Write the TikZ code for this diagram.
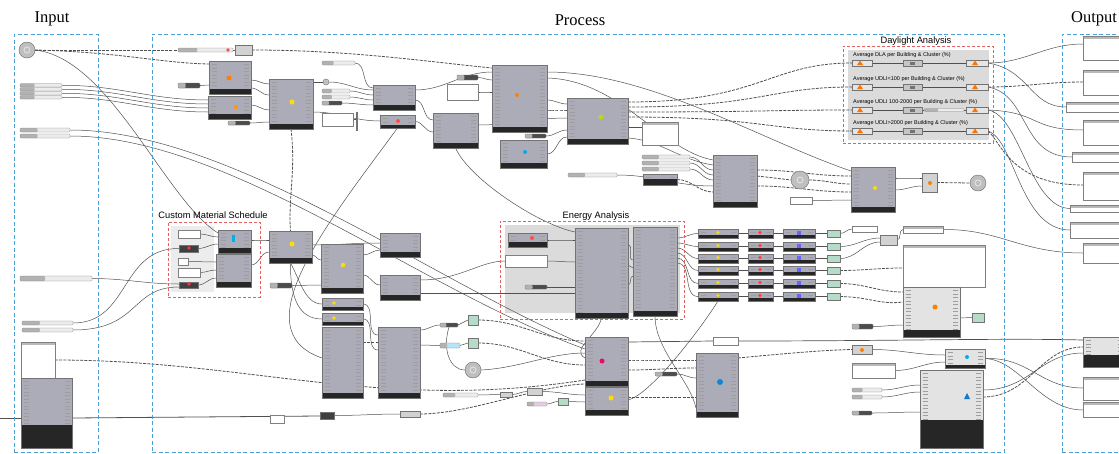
\documentclass[tikz,border=0pt]{standalone}
\usepackage{fontspec}
\setmainfont{Liberation Serif}
\newfontfamily\labfont{Liberation Sans}
\usetikzlibrary{calc}
\pgfdeclarelayer{back}
\pgfdeclarelayer{bg}
\pgfsetlayers{back,bg,main}
\definecolor{frameb}{RGB}{74,160,212}
\definecolor{framer}{RGB}{226,96,96}
\definecolor{compc}{RGB}{172,172,184}
\definecolor{wirec}{RGB}{80,80,80}
\definecolor{gicc}{RGB}{180,220,200}
\tikzset{
  foot/.initial=5pt,
  comp/.style={draw=black!55, fill=compc, line width=0.3pt, inner sep=0pt, outer sep=0pt,
    path picture={
      \foreach \k in {1,...,26}{
        \draw[black!38, line width=0.6pt] ([xshift=2.5pt,yshift={-\k*3.5pt}]path picture bounding box.north west) -- ++(5pt,0);
        \draw[black!38, line width=0.6pt] ([xshift=-2.5pt,yshift={-\k*3.5pt}]path picture bounding box.north east) -- ++(-5pt,0);
      }
      \fill[black!85] (path picture bounding box.south west) rectangle ([yshift=\pgfkeysvalueof{/tikz/foot}]path picture bounding box.south east);
    }},
  compl/.style={comp, fill=gray!22},
  mini/.style={draw=black!55, fill=gray!35, line width=0.3pt, inner sep=0pt, outer sep=0pt},
  minidk/.style={mini, fill=black!75},
  gic/.style={mini, fill=gicc},
  slid/.style={draw=black!50, fill=gray!15, line width=0.3pt, rounded corners=1pt, inner sep=0pt, outer sep=0pt,
    path picture={\fill[gray!60] (path picture bounding box.south west) rectangle ($(path picture bounding box.north west)!0.35!(path picture bounding box.north east)$);}},
  sliddk/.style={slid, fill=black!70},
  panel/.style={draw=black!50, fill=white, line width=0.3pt, inner sep=0pt, outer sep=0pt},
  opan/.style={panel, path picture={\fill[gray!55] (path picture bounding box.north west) rectangle ([yshift=-3pt]path picture bounding box.north east);}},
  gcirc/.style={circle, draw=black!60, fill=gray!50, line width=0.4pt, inner sep=0pt, outer sep=0pt,
    path picture={\draw[white!75!gray, line width=1pt] (path picture bounding box.center) circle (3pt);}},
  bframe/.style={draw=frameb, line width=1pt, dash pattern=on 4pt off 2.5pt, inner sep=0pt, outer sep=0pt},
  rframe/.style={draw=framer, line width=0.9pt, dash pattern=on 3pt off 2pt, inner sep=0pt, outer sep=0pt},
  area/.style={fill=gray!28, draw=none, inner sep=0pt, outer sep=0pt},
  wire/.style={draw=wirec, line width=0.5pt},
  dwire/.style={draw=wirec, line width=0.8pt, dash pattern=on 3pt off 1.2pt},
  ttl/.style={font=\fontsize{16.5}{18}\selectfont, inner sep=0pt},
  sub/.style={font=\labfont\fontsize{9.3}{10}\selectfont, inner sep=0pt},
  dltext/.style={font=\labfont\fontsize{5.5}{6}\selectfont, inner sep=0pt, anchor=west},
}
\newcommand\gc[6][comp]{\node[#1, anchor=north west, minimum width={(#5)-(#3)}, minimum height={(#6)-(#4)}] (#2) at (#3,#4) {};}
\begin{document}
\begin{tikzpicture}[x=1pt,y=-1pt]
\useasboundingbox (0,0) rectangle (1119,453);

% titles
\node[ttl] (tin) at (52,19) {Input};
\node[ttl] (tpr) at (580,20) {Process};
\node[ttl] (tout) at (1094,19) {Output};
\node[sub] (tdl) at (916,41) {Daylight Analysis};
\node[sub] (tcm) at (213,215) {Custom Material Schedule};
\node[sub] (ten) at (596,216) {Energy Analysis};

% grey group areas
\begin{pgfonlayer}{back}
\gc[area]{adl}{848}{50}{989}{140}
\gc[area]{aen}{505}{225}{680}{313}
\gc[area, fill=gray!15]{acm}{171}{226}{214}{292}
\end{pgfonlayer}

% ---------------- input
\node[gcirc, minimum size=16pt] (ci1) at (27,50) {};
\gc[slid]{s1}{20}{83.5}{62}{87}
\gc[slid]{s2}{20}{87.5}{62}{91}
\gc[slid]{s3}{20}{91.5}{62}{95}
\gc[slid]{s4}{20}{95.5}{62}{99}
\gc[slid]{s5}{20}{128}{70}{132}
\gc[slid]{s6}{20}{134}{70}{138}
\gc[slid]{s7}{20}{276}{92}{281}
\gc[slid]{s8}{22}{321}{73}{325}
\gc[slid]{s9}{22}{328}{73}{332}
\gc[opan]{pn1}{21}{342}{55}{378}
\gc[comp,foot=23pt]{cb}{21}{378}{72}{448}

% ---------------- process, top
\gc[slid]{slA}{178}{48}{233}{52}
\gc[mini]{cS1}{235}{45}{252}{55}
\gc{cA}{209}{61}{251}{94}
\gc{cB}{208}{96}{251}{119}
\gc[sliddk]{slB}{178}{83}{200}{88}
\gc[sliddk]{slC}{228}{121}{250}{125}
\gc{cC}{269}{79}{313}{129}
\gc[slid]{slD}{322}{61}{355}{65}
\gc[slid]{slE}{322}{89}{350}{93}
\gc[slid]{slF}{322}{95}{350}{99}
\gc[sliddk]{slG}{322}{101}{342}{105}
\node[gcirc, minimum size=6pt] (cc0) at (326,82) {};
\gc[panel]{pnA}{322}{113}{353}{126}
\gc[mini, fill=black!60]{bar}{356}{112}{357.5}{130}
\gc{cD}{373}{85}{415}{110}
\gc[comp,foot=3pt]{cD2}{380}{115}{415}{128}
\gc[sliddk]{slH}{457}{75}{478}{80}
\gc[panel]{pnB}{447}{84}{478}{100}
\gc{cE}{433}{113}{478}{148}
\gc{cF}{492}{65}{547}{132}
\gc[sliddk]{slI}{525}{134}{546}{138}
\gc{cG2}{500}{140}{547}{168}
\gc{cF2}{567}{98}{628}{144}
\gc[opan]{pnC}{642}{122}{678}{145}
\gc[slid]{slJ}{642}{155}{690}{159}
\gc[slid]{slK}{642}{161}{690}{165}
\gc[slid]{slL}{642}{167}{690}{171}
\gc[comp,foot=6pt]{cBk}{643}{174}{677}{185}
\gc[slid]{slM}{568}{173}{617}{177}
\gc{cG}{713}{155}{757}{207}
\node[gcirc, minimum size=18pt] (ci2) at (800,180) {};
\gc[panel]{pnD}{790}{197}{812}{204}
\gc{cH}{851}{167}{895}{212}
\gc[mini]{cS2}{922}{173}{937}{192}
\node[gcirc, minimum size=16pt] (ci3) at (978,183) {};

% daylight rows
\node[dltext] (dt1) at (853,55) {Average DLA per Building \& Cluster (\%)};
\node[dltext] (dt2) at (853,79) {Average UDLI<100 per Building \& Cluster (\%)};
\node[dltext] (dt3) at (853,102) {Average UDLI 100-2000 per Building \& Cluster (\%)};
\node[dltext] (dt4) at (853,123) {Average UDLI>2000 per Building \& Cluster (\%)};
\foreach \i/\yy in {1/63,2/87,3/110,4/131}{
  \gc[mini, fill=gray!20]{dla\i}{852}{\yy-3}{872}{\yy+3}
  \gc[mini, fill=gray!45]{dlb\i}{903}{\yy-3}{922}{\yy+3}
  \gc[mini, fill=gray!20]{dlc\i}{966}{\yy-3}{988}{\yy+3}
}
\gc[slid]{dlsl}{924}{108.5}{964}{111.5}

% custom material schedule
\gc[panel]{pnE}{178}{230}{200}{238}
\gc[minidk]{bkA}{179}{245}{198}{252}
\gc[panel]{pnF}{178}{258}{188}{265}
\gc[panel]{pnG}{178}{268}{200}{277}
\gc[minidk]{bkB}{179}{282}{198}{288}
\gc{cI}{218}{230}{251}{253}
\gc{cJ}{216}{254}{251}{287}
\gc{cK}{269}{231}{312}{263}
\gc[sliddk]{bkC}{270}{283}{292}{288}
\gc{cL}{321}{244}{363}{293}
\gc{cM}{380}{233}{420}{257}
\gc{cN}{380}{275}{420}{300}
\gc[comp,foot=3pt]{cO1}{322}{298}{363}{310}
\gc[comp,foot=3pt]{cO2}{322}{313}{363}{325}
\gc{cO}{322}{327}{363}{398}
\gc{cP}{378}{327}{420}{398}

% energy analysis
\gc[comp,foot=5pt]{cT1}{508}{233}{547}{247}
\gc[panel]{pnH}{505}{255}{547}{267}
\gc[sliddk]{slN}{525}{285}{547}{289}
\gc{cT}{575}{228}{628}{318}
\gc{cU}{633}{227}{677}{316}
\foreach \i/\yy in {1/229,2/242,3/254,4/266,5/279,6/292}{
  \gc[comp,foot=3pt]{ra\i}{698}{\yy}{738}{\yy+9}
  \gc[comp,foot=3pt]{rb\i}{748}{\yy}{773}{\yy+9}
  \gc[comp,foot=3pt]{rc\i}{783}{\yy}{815}{\yy+9}
  \gc[gic]{rd\i}{827}{\yy+1}{840}{\yy+8}
}
\gc[panel]{pnI}{852}{226}{877}{232}
\gc[mini]{cS3}{880}{235}{897}{245}
\gc[opan]{cW1}{903}{226}{943}{233}
\gc[opan]{pnJ}{903}{245}{985}{287}
\gc[compl,foot=7pt]{cV}{903}{287}{960}{337}
\gc[gic]{gic1}{972}{313}{984}{322}
\gc[sliddk]{slO}{852}{324}{873}{329}
\gc[mini]{cS4}{852}{345}{872}{354}
\gc[opan]{pnK}{852}{363}{895}{378}
\gc[slid]{slP}{852}{388}{882}{392}
\gc[slid]{slQ}{852}{395}{882}{399}
\gc[sliddk]{slR}{852}{411}{872}{415}
\gc[compl,foot=3pt]{cW}{945}{349}{985}{368}
\gc[compl,foot=28pt]{cX}{920}{370}{983}{448}

% lower middle
\gc[minidk]{cS5}{320}{412}{334}{419}
\gc[panel]{pnM}{270}{415}{284}{423}
\gc[mini]{cS9}{400}{411}{420}{417}
\gc[slid]{slT}{443}{393}{478}{397}
\gc[mini]{cS7}{500}{392}{512}{397}
\gc[mini]{cS8}{527}{388}{542}{395}
\gc[gic]{gic2}{558}{398}{568}{405}
\gc[slid, fill=violet!20]{slU}{527}{402}{547}{406}
\gc[sliddk]{slV}{440}{323}{458}{327}
\gc[gic]{gic3}{468}{315}{478}{325}
\gc[slid, fill=cyan!30]{pnN}{440}{343}{460}{348}
\gc[gic]{gic4}{468}{338}{478}{348}
\node[gcirc, minimum size=16pt] (ci4) at (473,370) {};
\gc{cQ}{585}{337}{628}{386}
\gc{cR}{585}{387}{628}{415}
\gc{cS}{696}{353}{738}{417}
\gc[panel]{pnO}{713}{337}{738}{345}
\gc[sliddk]{slW}{655}{372}{677}{376}

% output
\gc[opan]{o1}{1083}{36}{1125}{60}
\gc[opan]{o2}{1083}{70}{1125}{95}
\gc[opan]{o3}{1066}{102}{1125}{112}
\gc[opan]{o4}{1083}{120}{1125}{145}
\gc[opan]{o5}{1072}{152}{1125}{162}
\gc[opan]{o6}{1083}{172}{1125}{200}
\gc[opan]{o7}{1070}{205}{1125}{212}
\gc[opan]{o8}{1070}{222}{1125}{238}
\gc[opan]{o9}{1083}{243}{1125}{263}
\gc[compl,foot=12pt]{o10}{1083}{337}{1125}{367}
\gc[opan]{o11}{1083}{377}{1125}{400}
\gc[opan]{o12}{1083}{402}{1125}{417}

% ---------------- wires
\begin{pgfonlayer}{bg}
\draw[dwire] (ci1.east) -- (cS1.west);
\draw[dwire] (ci1.east) .. controls (120,52) and (160,63) .. (cA.west|-0,64);
\draw[wire] (ci1.east) .. controls (110,58) and (165,200) .. (cI.west|-0,233);
\foreach \nn/\yy in {s1/100,s2/104,s3/108,s4/112} \draw[wire] (\nn.east) to[out=0,in=180] (cB.west|-0,\yy);
\draw[wire] (s5.east) .. controls (230,130) and (430,280) .. (cQ.west|-0,345);
\draw[wire] (s6.east) .. controls (230,136) and (420,290) .. (cQ.west|-0,349);
\draw[wire] (slA.east) -- (cS1.west);
\draw[dwire] (cS1.east) .. controls (350,50) and (430,62) .. (cF.west|-0,68);
\draw[wire] (slB.east) -- (cA.west|-0,85);
\draw[wire] (cA.east|-0,80) to[out=0,in=180] (cC.west|-0,84);
\draw[wire] (cA.east|-0,88) to[out=0,in=180] (cC.west|-0,95);
\draw[wire] (cB.east|-0,105) to[out=0,in=180] (cC.west|-0,110);
\draw[wire] (slC.east) to[out=0,in=180] (cC.west|-0,122);
\draw[wire] (cC.east|-0,82) -- (cc0.west);
\draw[wire] (cc0.east) to[out=0,in=180] (cD.west|-0,90);
\draw[wire] (slD.east) to[out=0,in=180] (cD.west|-0,88);
\draw[wire] (slE.east) to[out=0,in=180] (cD.west|-0,95);
\draw[wire] (slF.east) to[out=0,in=180] (cD.west|-0,100);
\draw[wire] (slG.east) to[out=0,in=180] (cD.west|-0,105);
\draw[wire] (cC.east|-0,112) to[out=0,in=180] (cD2.west|-0,121);
\draw[wire] (pnA.east) -- (bar.west|-pnA.east);
\draw[dwire] (cC.south) .. controls (296,170) and (288,200) .. (cK.north);
\draw[wire] (cD.east|-0,90) to[out=0,in=180] (cF.west|-0,72);
\draw[wire] (cD.east|-0,100) to[out=0,in=180] (cE.west|-0,120);
\draw[wire] (cD2.east) to[out=0,in=180] (cE.west|-0,132);
\draw[wire] (slH.east) to[out=0,in=180] (cF.west|-0,80);
\draw[wire] (pnB.east) to[out=0,in=180] (cF.west|-0,92);
\draw[wire] (cE.east|-0,125) to[out=0,in=180] (cF2.west|-0,118);
\draw[wire] (cF.east|-0,100) to[out=0,in=180] (cF2.west|-0,104);
\draw[dwire] (cF.east|-0,110) to[out=0,in=180] (cF2.west|-0,110);
\draw[wire] (slI.east) to[out=0,in=180] (cF2.west|-0,130);
\draw[wire] (cG2.east) to[out=0,in=180] (cF2.west|-0,137);
\draw[wire] (cF.east|-0,72) .. controls (650,72) and (760,140) .. (cH.west|-0,171);
\draw[wire] (cF.east|-0,78) .. controls (620,80) and (660,150) .. (cG.west|-0,160);
\draw[wire] (cF2.east|-0,138) .. controls (660,140) and (680,160) .. (cG.west|-0,165);
\draw[wire] (cF2.east|-0,127) -- (pnC.west|-0,127);
\draw[dwire] (cF2.east|-0,102) .. controls (760,102) and (770,63) .. (dla1.west);
\draw[dwire] (cF2.east|-0,107) .. controls (760,107) and (770,87) .. (dla2.west);
\draw[dwire] (cF2.east|-0,112) .. controls (760,112) and (770,110) .. (dla3.west);
\draw[dwire] (cF2.east|-0,117) .. controls (760,117) and (770,131) .. (dla4.west);
\draw[wire] (slJ.east) to[out=0,in=180] (cG.west|-0,170);
\draw[wire] (slK.east) to[out=0,in=180] (cG.west|-0,175);
\draw[wire] (slL.east) to[out=0,in=180] (cG.west|-0,180);
\draw[wire] (slM.east) to[out=0,in=180] (cG.west|-0,186);
\draw[dwire] (cBk.east) to[out=0,in=180] (cG.west|-0,192);
\draw[dwire] (cG.east|-0,176) -- (ci2.west);
\draw[dwire] (cG.east|-0,170) to[out=0,in=180] (cH.west|-0,176);
\draw[dwire] (ci2.east) to[out=0,in=180] (cH.west|-0,184);
\draw[dwire] (cG.east|-0,186) to[out=0,in=180] (cH.west|-0,192);
\draw[wire] (pnD.east) to[out=0,in=180] (cH.west|-0,200);
\draw[wire] (cH.east|-0,178) to[out=0,in=180] (cS2.west|-0,178);
\draw[wire] (cH.east|-0,190) to[out=0,in=180] (cS2.west|-0,186);
\draw[dwire] (cS2.east) -- (ci3.west);
\foreach \i in {1,2,3,4}{
  \draw[wire] (dla\i.east) -- (dlb\i.west);
  \draw[wire] (dlb\i.east) -- (dlc\i.west);
}
\draw[wire] (dlc1.east) to[out=0,in=180] (o1.west|-0,44);
\draw[dwire] (dlc2.east) to[out=0,in=180] (o2.west|-0,82);
\draw[wire] (dlc1.east) .. controls (1030,70) and (1030,107) .. (o3.west);
\draw[wire] (dlc2.east) .. controls (1030,95) and (1020,157) .. (o5.west);
\draw[wire] (dlc3.east) .. controls (1040,112) and (1030,130) .. (o4.west|-0,130);
\draw[wire] (dlc3.east) .. controls (1020,115) and (1030,208) .. (o7.west);
\draw[dwire] (dlc4.east) .. controls (1000,140) and (1010,185) .. (o6.west|-0,185);
\draw[wire] (dlc4.east) .. controls (1015,140) and (1020,230) .. (o8.west);
% custom material
\draw[wire] (pnE.east) to[out=0,in=180] (cI.west|-0,237);
\draw[wire] (bkA.east) to[out=0,in=180] (cI.west|-0,244);
\draw[wire] (pnF.east) to[out=0,in=180] (cJ.west|-0,262);
\draw[wire] (pnG.east) to[out=0,in=180] (cJ.west|-0,270);
\draw[wire] (bkB.east) to[out=0,in=180] (cJ.west|-0,278);
\draw[wire] (cI.east|-0,240) to[out=0,in=180] (cK.west|-0,240);
\draw[wire] (cJ.east|-0,265) to[out=0,in=180] (cK.west|-0,252);
\draw[wire] (cK.east|-0,245) to[out=0,in=180] (cM.west|-0,243);
\draw[wire] (cK.east|-0,255) to[out=0,in=180] (cL.west|-0,260);
\draw[wire] (bkC.east) to[out=0,in=180] (cL.west|-0,285);
\draw[wire] (cL.east|-0,255) to[out=0,in=180] (cM.west|-0,250);
\draw[wire] (cL.east|-0,275) to[out=0,in=180] (cN.west|-0,285);
\draw[wire] (cK.south) .. controls (300,280) and (305,304) .. (cO1.west);
\draw[wire] (cK.south) .. controls (290,300) and (300,319) .. (cO2.west);
\draw[wire] (cO1.east) to[out=0,in=180] (cP.west|-0,335);
\draw[dwire] (cO.east|-0,342) -- (cP.west|-0,342);
\draw[wire] (cO2.east) to[out=0,in=180] (cP.west|-0,350);
\draw[wire] (s8.east) .. controls (130,323) and (120,248) .. (bkA.west);
\draw[wire] (s9.east) .. controls (140,330) and (130,287) .. (bkB.west|-0,287);
\draw[wire] (s7.east) to[out=0,in=180] (bkB.west|-0,284);
\draw[wire] (cD2.south) .. controls (330,220) and (240,330) .. (cO.west|-0,358);
% energy
\draw[wire] (cE.south) .. controls (470,180) and (540,225) .. (cT.west|-0,232);
\draw[wire] (cT1.east) to[out=0,in=180] (cT.west|-0,240);
\draw[wire] (pnH.east) to[out=0,in=180] (cT.west|-0,262);
\draw[wire] (cN.east|-0,280) .. controls (460,280) and (480,261) .. (pnH.west);
\draw[wire] (slN.east) -- (cT.west|-0,287);
\draw[wire] (cN.east|-0,293) -- (cT.west|-0,293);
\draw[wire] (cT.east|-0,245) to[out=0,in=180] (cU.west|-0,260);
\draw[wire] (cT.east|-0,265) to[out=0,in=180] (cU.west|-0,268);
\draw[wire] (cT.east|-0,285) to[out=0,in=180] (cU.west|-0,276);
\foreach \i/\py in {1/238,2/243,3/248,4/253,5/258,6/263}{
  \draw[wire] (cU.east|-0,\py) to[out=0,in=180] (ra\i.west);
  \draw[wire] (ra\i.east) -- (rb\i.west);
  \draw[wire] (rb\i.east) -- (rc\i.west);
  \draw[wire] (rc\i.east) -- (rd\i.west);
}
\draw[wire] (rd1.east) to[out=0,in=180] (pnI.west);
\draw[wire] (rd2.east) to[out=0,in=180] (cS3.west|-0,238);
\draw[wire] (rd3.east) to[out=0,in=180] (cS3.west|-0,242);
\draw[dwire] (rd4.east) to[out=0,in=180] (pnJ.west|-0,268);
\draw[dwire] (rd5.east) to[out=0,in=180] (cV.west|-0,292);
\draw[dwire] (rd6.east) .. controls (870,297) and (880,305) .. (cV.west|-0,302);
\draw[wire] (cS3.east) to[out=0,in=180] (cW1.west);
\draw[wire] (cW1.east) .. controls (1000,229) and (1020,253) .. (o9.west|-0,253);
% lower
\coordinate (lft) at (0,418);
\draw[wire, line width=0.8pt] (lft) -- (cb.west|-0,418);
\draw[wire, line width=0.8pt] (cb.east|-0,418) -- (cS5.west|-0,416);
\draw[wire] (cS5.east) to[out=0,in=180] (cS9.west);
\draw[dwire] (pn1.east) .. controls (250,360) and (380,412) .. (cQ.west|-0,380);
\draw[dwire] (cS9.east) .. controls (470,414) and (540,385) .. (cQ.west|-0,384);
\draw[wire] (slT.east) -- (cS7.west);
\draw[wire] (cS7.east) to[out=0,in=180] (cS8.west);
\draw[wire] (cS8.east) to[out=0,in=180] (cR.west|-0,395);
\draw[wire] (slU.east) to[out=0,in=180] (gic2.west);
\draw[wire] (gic2.east) to[out=0,in=180] (cR.west|-0,402);
\draw[wire] (cP.east|-0,330) to[out=0,in=180] (slV.west);
\draw[wire] (cP.east|-0,345) to[out=0,in=180] (pnN.west);
\draw[wire] (slV.east) -- (gic3.west);
\draw[wire] (pnN.east) -- (gic4.west);
\draw[wire] (slV.south) .. controls (442,350) and (450,370) .. (ci4.west);
\draw[wire] (ci4.east) .. controls (520,368) and (550,353) .. (cQ.west|-0,353);
\draw[dwire] (gic3.east) to[out=0,in=180] (cQ.west|-0,341);
\draw[dwire] (gic4.east) to[out=0,in=180] (cQ.west|-0,365);
\draw[wire] (cT.south) .. controls (598,335) and (570,350) .. (cQ.west|-0,358);
\draw[wire] (cU.south) .. controls (655,350) and (690,380) .. (cS.west|-0,408);
\draw[wire] (ra6.south) .. controls (700,330) and (650,395) .. (cR.east|-0,400);
\draw[wire, line width=0.7pt] (cQ.east|-0,342) -- (pnO.west|-0,341);
\draw[wire, line width=0.7pt] (pnO.east) .. controls (900,341) and (1000,338) .. (o10.west|-0,340);
\draw[dwire] (cQ.east|-0,360) to[out=0,in=180] (cS.west|-0,360);
\draw[dwire] (cQ.east|-0,370) to[out=0,in=180] (cS.west|-0,368);
\draw[dwire] (cR.east|-0,397) -- (cS.west|-0,397);
\draw[wire] (slW.east) to[out=0,in=180] (cS.west|-0,378);
\draw[dwire] (cS.east|-0,358) .. controls (800,352) and (830,350) .. (cS4.west);
\draw[wire] (slO.east) to[out=0,in=180] (cV.west|-0,325);
\draw[wire] (cS4.east) to[out=0,in=180] (cW.west|-0,355);
\draw[wire] (pnK.east) to[out=0,in=180] (cW.west|-0,362);
\draw[wire] (slP.east) to[out=0,in=180] (cX.west|-0,385);
\draw[wire] (slQ.east) to[out=0,in=180] (cX.west|-0,392);
\draw[wire] (slR.east) to[out=0,in=180] (cX.west|-0,412);
\draw[wire] (cV.east|-0,318) -- (gic1.west);
\draw[wire] (cW.east) .. controls (1030,357) and (1040,388) .. (o11.west|-0,388);
\draw[wire] (cW.east) .. controls (1020,360) and (1040,410) .. (o12.west|-0,410);
\draw[dwire] (cX.east|-0,397) .. controls (1030,397) and (1040,347) .. (o10.west|-0,347);
\draw[wire] (cX.east|-0,390) .. controls (1030,390) and (1040,353) .. (o10.west|-0,353);
\end{pgfonlayer}

% ---------------- icons
\fill[orange] (229,78) circle (2.5);
\fill[orange!80!yellow] (236,107) circle (2);
\fill[yellow!80!orange] (292,102) circle (2.5);
\fill[red!70] (398,121) circle (2);
\fill[orange] (517,95) circle (2);
\fill[yellow!70!green] (601,117) circle (2.5);
\fill[cyan] (525,152) circle (2);
\fill[cyan] (231.5,235) rectangle (234.5,242);
\fill[yellow!80!orange] (292,244) circle (2.5);
\fill[yellow!80!orange] (343,265) circle (2.2);
\fill[red!80] (189,248) circle (1.8);
\fill[red!80] (189,284) circle (1.8);
\fill[yellow!80!orange] (334,303) circle (1.8);
\fill[yellow!80!orange] (334,318) circle (1.8);
\fill[magenta!70!red] (602,361) circle (2.5);
\fill[yellow!80!orange] (611,398) circle (2.5);
\fill[cyan!70!blue] (720,382) circle (3);
\fill[orange] (935,307) circle (2.5);
\fill[cyan] (967,357) circle (2);
\fill[cyan!60!blue] (964,399) -- (970,399) -- (967,393) -- cycle;
\fill[red!70] (532,238) circle (2);
\fill[orange] (862,350) circle (2);
\fill[yellow!80!orange] (875,188) circle (2);
\fill[orange] (930,183) circle (2);
\fill[red!70] (228,50) circle (1.8);
\foreach \yy in {229,242,254,266,279,292}{
  \fill[yellow!80!orange] (718,\yy+3.5) circle (1.6);
  \fill[red!75] (760,\yy+3.5) circle (1.8);
  \fill[blue!60] (797,\yy+2) rectangle (801,\yy+6);
}
\foreach \yy in {63,87,110,131}{
  \fill[orange!90!red] (857,\yy+2) -- (863,\yy+2) -- (860,\yy-2.5) -- cycle;
  \fill[black!55] (910,\yy-1.5) rectangle (915,\yy+1.5);
  \fill[orange!90!red] (972,\yy+2) -- (978,\yy+2) -- (975,\yy-2.5) -- cycle;
}

% ---------------- frames
\gc[bframe]{fIn}{14}{34}{98}{452}
\gc[bframe]{fPr}{152}{34}{1004}{452}
\gc[bframe]{fOut}{1062}{34}{1140}{452}
\gc[rframe]{fDl}{843}{46}{993}{143}
\gc[rframe]{fCm}{168}{222}{260}{297}
\gc[rframe]{fEn}{500}{221}{684}{319}
\end{tikzpicture}
\end{document}
